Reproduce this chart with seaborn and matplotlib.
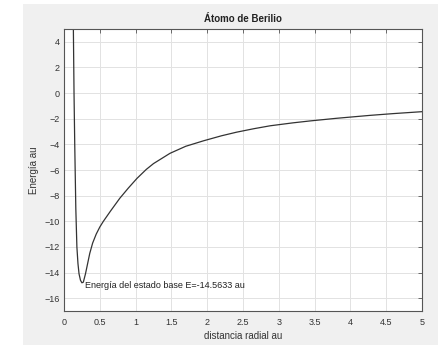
import matplotlib
matplotlib.use("Agg")
import matplotlib.pyplot as plt
import seaborn as sns
import pandas as pd
from matplotlib.patches import Rectangle

# Data
r_vals = [0.13, 0.14, 0.15, 0.165, 0.18, 0.195, 0.21, 0.23, 0.25, 0.27, 0.30,
          0.33, 0.36, 0.40, 0.45, 0.50, 0.55, 0.65, 0.78, 0.90, 1.02, 1.15,
          1.25, 1.48, 1.70, 1.95, 2.20, 2.41, 2.65, 2.88, 3.20, 3.44, 3.80,
          4.27, 4.60, 5.00]
e_vals = [5.5, 0.0, -4.0, -9.0, -12.0, -13.3, -14.1, -14.6, -14.8, -14.75, -14.1,
          -13.3, -12.5, -11.7, -11.0, -10.45, -10.0, -9.2, -8.2, -7.4, -6.65, -5.95,
          -5.5, -4.7, -4.15, -3.72, -3.33, -3.05, -2.78, -2.55, -2.32, -2.17, -1.97,
          -1.74, -1.6, -1.45]
x_ticks = [0, 0.5, 1, 1.5, 2, 2.5, 3, 3.5, 4, 4.5, 5]
x_tick_labels = ["0", "0.5", "1", "1.5", "2", "2.5", "3", "3.5", "4", "4.5", "5"]
y_ticks = [-16, -14, -12, -10, -8, -6, -4, -2, 0, 2, 4]
annot_text = "Energía del estado base E=-14.5633 au"
annot_pos = (0.30, -15.0)
title_text = "Átomo de Berilio"
xlabel_text = "distancia radial au"
ylabel_text = "Energía au"

df = pd.DataFrame({"r": r_vals, "E": e_vals})

sns.set_style("white")
plt.rcParams["font.family"] = ["Liberation Sans", "DejaVu Sans"]

W, H = 438, 345
fig = plt.figure(figsize=(W / 100, H / 100), dpi=100, facecolor="white")
fig.patches.append(Rectangle((23 / W, 0), 1 - 23 / W, 1 - 4 / H,
                             transform=fig.transFigure, facecolor="#f0f0f0",
                             edgecolor="none", zorder=-10))
ax = fig.add_axes([64 / W, 1 - 311 / H, (422 - 64) / W, (311 - 29) / H])
ax.set_facecolor("white")

sns.lineplot(data=df, x="r", y="E", ax=ax, color="#333333", linewidth=0.9,
             estimator=None, sort=False)

ax.set_xlim(0, 5)
ax.set_ylim(-17, 5)
ax.set_xticks(x_ticks)
ax.set_xticklabels(x_tick_labels)
ax.set_yticks(y_ticks)
ax.grid(True, color="#e2e2e2", linewidth=0.7)
ax.set_axisbelow(True)
ax.tick_params(direction="in", length=3, width=0.6, colors="#555555",
               labelcolor="#333333", labelsize=6.5, top=True, right=True)
ax.tick_params(axis="x", pad=5)
ax.tick_params(axis="y", pad=3)
for s in ax.spines.values():
    s.set_color("#555555")
    s.set_linewidth(0.8)
    s.set_visible(True)

ax.set_title(title_text, fontsize=7, fontweight="bold", color="#222222", pad=5)
ax.set_xlabel(xlabel_text, fontsize=7, color="#333333", labelpad=3)
ax.set_ylabel(ylabel_text, fontsize=7, color="#333333", labelpad=4)
ax.text(annot_pos[0], annot_pos[1], annot_text, fontsize=6.5, color="#222222",
        ha="left", va="center")

fig.savefig("out.png", dpi=100, facecolor=fig.get_facecolor())
